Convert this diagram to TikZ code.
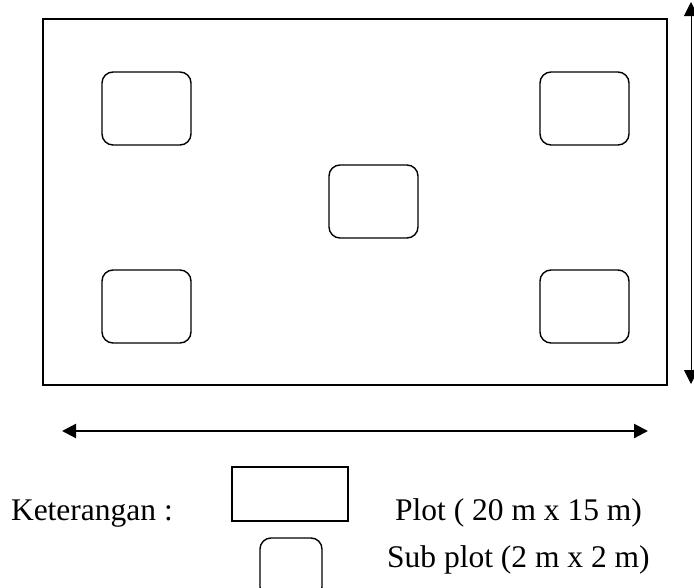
\documentclass[tikz,border=0pt]{standalone}
\usepackage{fontspec}
\setmainfont{Liberation Serif}
\usetikzlibrary{arrows.meta}
\begin{document}
\begin{tikzpicture}[x=1pt,y=-1pt,
  plotbox/.style={draw,line width=1.8pt,rectangle,inner sep=0pt},
  subbox/.style={draw,line width=1.4pt,rectangle,rounded corners=11pt,inner sep=0pt,minimum width=89pt,minimum height=73pt},
  dimarrow/.style={{Triangle[length=14pt,width=14pt]}-{Triangle[length=14pt,width=14pt]}},
  lbl/.style={font=\fontsize{31.5}{36}\selectfont,inner sep=0pt,anchor=base west}]
\useasboundingbox (0,0) rectangle (694,587);
\node[plotbox,minimum width=624pt,minimum height=366pt] (plot) at (355,202) {};
\node[subbox] (s1) at (146.5,108.5) {};
\node[subbox] (s2) at (584.5,108.5) {};
\node[subbox] (s3) at (373.5,201.5) {};
\node[subbox] (s4) at (146.5,306.5) {};
\node[subbox] (s5) at (584.5,306.5) {};
\coordinate (vt) at (691,2);
\coordinate (vb) at (691,384);
\draw[dimarrow,line width=1pt] (vt) -- (vb);
\coordinate (hl) at (62,431);
\coordinate (hr) at (648,431);
\draw[dimarrow,line width=2.2pt] (hl) -- (hr);
\node[lbl,anchor=base east] (ket) at (173,520) {Keterangan :};
\node[plotbox,line width=1.5pt,minimum width=116pt,minimum height=54pt] (lp) at (290,494) {};
\node[subbox,minimum width=62pt,minimum height=60pt] (ls) at (291,568) {};
\node[lbl] (tp) at (395,520) {Plot ( 20 m x 15 m)};
\node[lbl] (ts) at (387,567) {Sub plot (2 m x 2 m)};
\end{tikzpicture}
\end{document}
